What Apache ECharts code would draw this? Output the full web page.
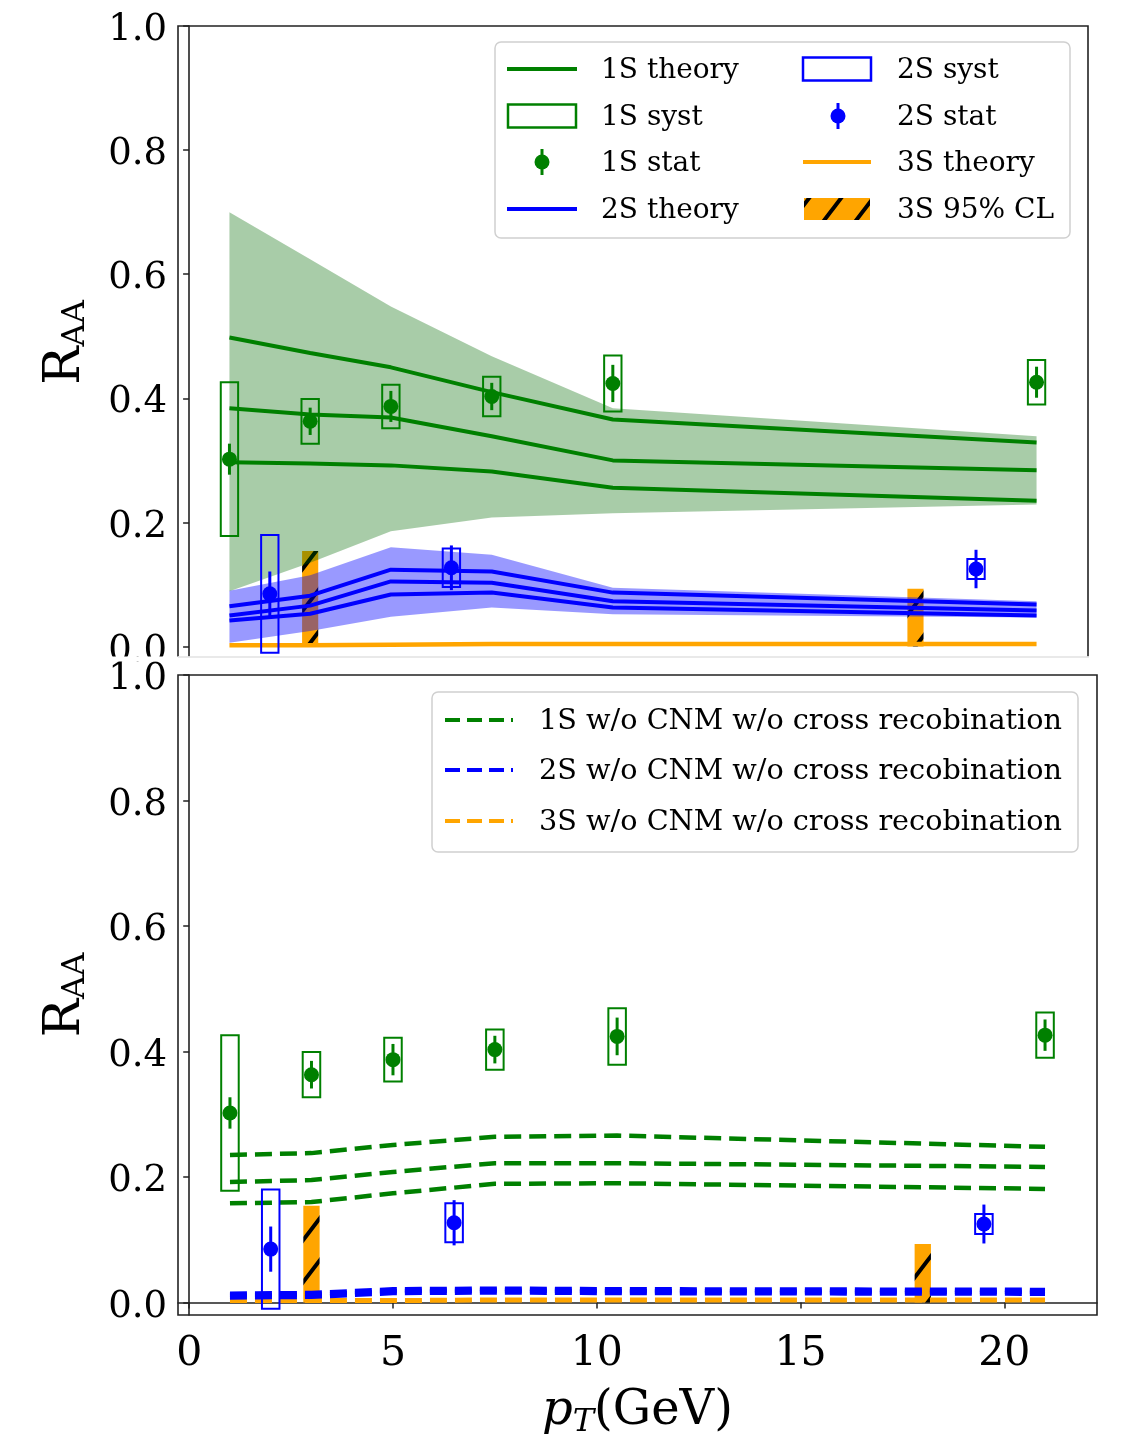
<!DOCTYPE html>
<html>
<head>
<meta charset="utf-8">
<script src="https://cdn.jsdelivr.net/npm/echarts@6/dist/echarts.min.js"></script>
<style>
  html, body { margin: 0; padding: 0; background: #ffffff; }
  #chart { width: 1127px; height: 1441px; }
</style>
</head>
<body>
<div id="chart"></div>
<script>
// ---------- data ----------
// pT knots (GeV) at which the model curves are evaluated
const ptKnots = [1, 3, 5, 7.5, 10.5, 21];

// 1S model (with CNM + cross recombination): three curves and uncertainty band
const th1S_hi  = [0.498, 0.473, 0.450, 0.410, 0.366, 0.329];
const th1S_mid = [0.384, 0.374, 0.369, 0.339, 0.300, 0.284];
const th1S_lo  = [0.297, 0.295, 0.292, 0.282, 0.256, 0.235];
const band1S_up = [0.700, 0.624, 0.548, 0.468, 0.384, 0.339];
const band1S_dn = [0.089, 0.135, 0.186, 0.208, 0.215, 0.229];

// 2S model: three curves and uncertainty band
const th2S_hi  = [0.065, 0.082, 0.124, 0.121, 0.087, 0.068];
const th2S_mid = [0.050, 0.066, 0.105, 0.103, 0.073, 0.058];
const th2S_lo  = [0.042, 0.053, 0.084, 0.087, 0.063, 0.050];
const band2S_up = [0.090, 0.115, 0.160, 0.148, 0.095, 0.073];
const band2S_dn = [0.006, 0.025, 0.048, 0.063, 0.052, 0.047];

// 3S model
const th3S = [0.002, 0.002, 0.003, 0.004, 0.004, 0.004];

// model without CNM and without cross recombination
const nc1S_hi  = [0.235, 0.238, 0.251, 0.264, 0.266, 0.248];
const nc1S_mid = [0.192, 0.195, 0.208, 0.222, 0.222, 0.216];
const nc1S_lo  = [0.158, 0.160, 0.174, 0.189, 0.190, 0.181];
const nc2S_hi  = [0.014, 0.015, 0.021, 0.022, 0.021, 0.020];
const nc2S_mid = [0.011, 0.012, 0.018, 0.019, 0.018, 0.017];
const nc2S_lo  = [0.008, 0.009, 0.015, 0.016, 0.015, 0.014];
const nc3S     = [0.003, 0.003, 0.003, 0.004, 0.004, 0.004];

// measurements
const pt1S   = [1, 3, 5, 7.5, 10.5, 21];
const raa1S  = [0.302, 0.363, 0.387, 0.403, 0.424, 0.426];
const stat1S = [0.025, 0.022, 0.025, 0.022, 0.030, 0.025];
const syst1S = [0.124, 0.036, 0.035, 0.032, 0.045, 0.036];

const pt2S   = [2, 6.5, 19.5];
const raa2S  = [0.085, 0.127, 0.125];
const stat2S = [0.036, 0.036, 0.031];
const syst2S = [0.095, 0.031, 0.016];

// 3S upper limits (95% CL)
const pt3S = [3, 18];
const cl3S = [0.154, 0.093];

// axis ticks
const xTicks = [0, 5, 10, 15, 20];
const yTicks = [0, 0.2, 0.4, 0.6, 0.8, 1.0];

// ---------- style ----------
const FONT = '"DejaVu Serif", "Liberation Serif", serif';
const GREEN = '#008000', BLUE = '#0000ff', ORANGE = '#ffa500';
const BOX_HALF = 0.215;   // half width of systematic boxes (GeV)
const BAR_HALF = 0.2;     // half width of 3S limit bars (GeV)
const DASH = [17, 8];

function makeHatch() {
  const w = 32, h = 42;
  const c = document.createElement('canvas');
  c.width = w; c.height = h;
  const g = c.getContext('2d');
  g.fillStyle = ORANGE;
  g.fillRect(0, 0, w, h);
  g.strokeStyle = '#000';
  g.lineWidth = 4;
  g.beginPath();
  for (let k = -1; k <= 1; k++) {
    g.moveTo(k * w - w, 2 * h);
    g.lineTo(k * w + 2 * w, -h);
  }
  g.stroke();
  return c;
}
const hatch = { image: makeHatch(), repeat: 'repeat' };

function curve(grid, ys, color, z, dashed, width) {
  return {
    type: 'line', xAxisIndex: grid, yAxisIndex: grid, z: z,
    data: ptKnots.map((x, i) => [x, ys[i]]),
    symbol: 'none', silent: true, animation: false,
    lineStyle: { color: color, width: width || 4, type: dashed ? DASH : 'solid', cap: 'butt' }
  };
}

function band(grid, up, dn, fill, z) {
  return {
    type: 'custom', xAxisIndex: grid, yAxisIndex: grid, z: z, silent: true, animation: false,
    data: ptKnots.map((x, i) => [x, dn[i], up[i]]),
    encode: { x: 0, y: [1, 2] },
    renderItem: function (params, api) {
      if (params.dataIndex !== 0) return null;
      const pts = [];
      for (let i = 0; i < ptKnots.length; i++) pts.push(api.coord([ptKnots[i], up[i]]));
      for (let i = ptKnots.length - 1; i >= 0; i--) pts.push(api.coord([ptKnots[i], dn[i]]));
      return { type: 'polygon', shape: { points: pts }, style: { fill: fill } };
    }
  };
}

function systBoxes(grid, xs, ys, ss, color, z) {
  return {
    type: 'custom', xAxisIndex: grid, yAxisIndex: grid, z: z, silent: true, animation: false,
    data: xs.map((x, i) => [x, ys[i], ss[i]]),
    encode: { x: 0, y: 1 },
    renderItem: function (params, api) {
      const x = api.value(0), y = api.value(1), s = api.value(2);
      const a = api.coord([x - BOX_HALF, y + s]);
      const b = api.coord([x + BOX_HALF, y - s]);
      return {
        type: 'rect',
        shape: { x: a[0], y: a[1], width: b[0] - a[0], height: b[1] - a[1] },
        style: { fill: 'none', stroke: color, lineWidth: 2 }
      };
    }
  };
}

function statPoints(grid, xs, ys, es, color, z) {
  return {
    type: 'custom', xAxisIndex: grid, yAxisIndex: grid, z: z, silent: true, animation: false,
    data: xs.map((x, i) => [x, ys[i], es[i]]),
    encode: { x: 0, y: 1 },
    renderItem: function (params, api) {
      const x = api.value(0), y = api.value(1), e = api.value(2);
      const c = api.coord([x, y]);
      const t = api.coord([x, y + e]);
      const b = api.coord([x, y - e]);
      return {
        type: 'group',
        children: [
          { type: 'line', shape: { x1: t[0], y1: t[1], x2: b[0], y2: b[1] },
            style: { stroke: color, lineWidth: 3 } },
          { type: 'circle', shape: { cx: c[0], cy: c[1], r: 7.5 }, style: { fill: color } }
        ]
      };
    }
  };
}

function limitBars(grid, z) {
  return {
    type: 'custom', xAxisIndex: grid, yAxisIndex: grid, z: z, silent: true, animation: false,
    data: pt3S.map((x, i) => [x, cl3S[i]]),
    encode: { x: 0, y: 1 },
    renderItem: function (params, api) {
      const x = api.value(0), y = api.value(1);
      const a = api.coord([x - BAR_HALF, y]);
      const b = api.coord([x + BAR_HALF, 0]);
      return {
        type: 'rect',
        shape: { x: a[0], y: a[1], width: b[0] - a[0], height: b[1] - a[1] },
        style: { fill: hatch }
      };
    }
  };
}

function yAxisDef(grid) {
  return {
    type: 'value', gridIndex: grid, min: -0.02, max: 1.0,
    axisLine: { show: true, lineStyle: { color: '#222', width: 1.6 } },
    axisTick: { show: true, length: 6, customValues: yTicks, lineStyle: { color: '#222', width: 1.5 } },
    axisLabel: {
      customValues: yTicks, formatter: v => '{v|' + v.toFixed(1) + '}',
      margin: 11,
      rich: { v: { fontFamily: FONT, fontSize: 37, color: '#000', padding: [9, 0, 0, 0] } }
    },
    splitLine: { show: false },
    name: '{r|R}{s|AA}', nameLocation: 'middle', nameRotate: 90, nameGap: 86,
    nameTextStyle: {
      rich: {
        r: { fontFamily: FONT, fontSize: 51, color: '#000' },
        s: { fontFamily: FONT, fontSize: 32, color: '#000', padding: [20, 0, 0, 0] }
      }
    }
  };
}

const option = {
  backgroundColor: '#ffffff',
  animation: false,
  grid: [
    { left: 178, top: 26, width: 910, height: 633, show: true, borderColor: '#222', borderWidth: 1.6, backgroundColor: 'transparent' },
    { left: 178, top: 675, width: 919, height: 640, show: true, borderColor: '#222', borderWidth: 1.6, backgroundColor: 'transparent' }
  ],
  xAxis: [
    { type: 'value', gridIndex: 0, min: -0.275, max: 22.275,
      axisLine: { show: false }, axisTick: { show: false }, axisLabel: { show: false }, splitLine: { show: false } },
    { type: 'value', gridIndex: 1, min: -0.275, max: 22.275,
      axisLine: { show: true, lineStyle: { color: '#222', width: 1.6 } },
      axisTick: { show: true, length: 6, customValues: xTicks, lineStyle: { color: '#222', width: 1.5 } },
      axisLabel: { customValues: xTicks, fontFamily: FONT, fontSize: 41, color: '#000', margin: 19 },
      splitLine: { show: false },
      name: '{p|p}{t|T}{g|(GeV)}', nameLocation: 'middle', nameGap: 70,
      nameTextStyle: {
        rich: {
          p: { fontFamily: FONT, fontStyle: 'italic', fontSize: 48, color: '#000' },
          t: { fontFamily: FONT, fontStyle: 'italic', fontSize: 32, color: '#000', padding: [22, 0, 0, 0] },
          g: { fontFamily: FONT, fontSize: 48, color: '#000' }
        }
      }
    }
  ],
  yAxis: [yAxisDef(0), yAxisDef(1)],
  series: [
    // upper panel: full model
    limitBars(0, 1),
    band(0, band1S_up, band1S_dn, 'rgba(0,105,0,0.34)', 2),
    band(0, band2S_up, band2S_dn, 'rgba(0,0,255,0.4)', 2),
    curve(0, th1S_hi, GREEN, 3), curve(0, th1S_mid, GREEN, 3), curve(0, th1S_lo, GREEN, 3),
    curve(0, th2S_hi, BLUE, 3), curve(0, th2S_mid, BLUE, 3), curve(0, th2S_lo, BLUE, 3),
    curve(0, th3S, ORANGE, 3, false, 4.5),
    systBoxes(0, pt1S, raa1S, syst1S, GREEN, 4),
    systBoxes(0, pt2S, raa2S, syst2S, BLUE, 4),
    statPoints(0, pt1S, raa1S, stat1S, GREEN, 5),
    statPoints(0, pt2S, raa2S, stat2S, BLUE, 5),
    // lower panel: without CNM, without cross recombination
    limitBars(1, 1),
    curve(1, nc1S_hi, GREEN, 3, true, 4.5), curve(1, nc1S_mid, GREEN, 3, true, 4.5), curve(1, nc1S_lo, GREEN, 3, true, 4.5),
    curve(1, nc3S, ORANGE, 3, true, 5),
    curve(1, nc2S_hi, BLUE, 3, true, 4.5), curve(1, nc2S_mid, BLUE, 3, true, 4.5), curve(1, nc2S_lo, BLUE, 3, true, 4.5),
    systBoxes(1, pt1S, raa1S, syst1S, GREEN, 4),
    systBoxes(1, pt2S, raa2S, syst2S, BLUE, 4),
    statPoints(1, pt1S, raa1S, stat1S, GREEN, 5),
    statPoints(1, pt2S, raa2S, stat2S, BLUE, 5)
  ]
};

// ---------- legends ----------
function legendText(x, y, text, size) {
  return { type: 'text', z: 120, style: { x: x, y: y + 2, text: text, fontFamily: FONT, fontSize: size, fill: '#000', verticalAlign: 'middle', align: 'left' } };
}
function legendLine(x1, x2, y, color, dashed) {
  return { type: 'line', z: 120, shape: { x1: x1, y1: y, x2: x2, y2: y }, style: { stroke: color, lineWidth: 4, lineDash: dashed ? [15, 7] : null } };
}
function legendBox(x, y, w, h, color) {
  return { type: 'rect', z: 120, shape: { x: x, y: y, width: w, height: h }, style: { fill: 'none', stroke: color, lineWidth: 2.5 } };
}
function legendStat(cx, cy, color) {
  return [
    { type: 'line', z: 120, shape: { x1: cx, y1: cy - 13, x2: cx, y2: cy + 13 }, style: { stroke: color, lineWidth: 3 } },
    { type: 'circle', z: 121, shape: { cx: cx, cy: cy, r: 7.5 }, style: { fill: color } }
  ];
}

const L1 = { x: 495, y: 42, w: 575, h: 196 };
const rows1 = [69, 116, 162, 209];
const L2 = { x: 432, y: 692, w: 646, h: 160 };
const rows2 = [720, 770, 821];

const graphics = [
  // the upper panel is cut off just below its zero line
  { type: 'rect', z: 110, shape: { x: 0, y: 656.5, width: 1127, height: 5 }, style: { fill: '#ffffff' } },
  { type: 'line', z: 111, shape: { x1: 178, y1: 657, x2: 1089, y2: 657 }, style: { stroke: '#e2e2e2', lineWidth: 1.5 } },

  { type: 'rect', z: 115, shape: { x: L1.x, y: L1.y, width: L1.w, height: L1.h, r: 6 },
    style: { fill: 'rgba(255,255,255,0.85)', stroke: '#d0d0d0', lineWidth: 1.5 } },
  legendLine(507, 577, rows1[0], GREEN),
  legendText(601, rows1[0], '1S theory', 28),
  legendBox(508, rows1[1] - 11.5, 68, 23, GREEN),
  legendText(601, rows1[1], '1S syst', 28),
  ...legendStat(542, rows1[2], GREEN),
  legendText(601, rows1[2], '1S stat', 28),
  legendLine(507, 577, rows1[3], BLUE),
  legendText(601, rows1[3], '2S theory', 28),
  legendBox(803, rows1[0] - 11.5, 68, 23, BLUE),
  legendText(897, rows1[0], '2S syst', 28),
  ...legendStat(838, rows1[1], BLUE),
  legendText(897, rows1[1], '2S stat', 28),
  legendLine(803, 871, rows1[2], ORANGE),
  legendText(897, rows1[2], '3S theory', 28),
  { type: 'rect', z: 120, shape: { x: 804, y: rows1[3] - 11, width: 66, height: 22 }, style: { fill: hatch } },
  legendText(897, rows1[3], '3S 95% CL', 28),

  { type: 'rect', z: 115, shape: { x: L2.x, y: L2.y, width: L2.w, height: L2.h, r: 6 },
    style: { fill: 'rgba(255,255,255,0.85)', stroke: '#d0d0d0', lineWidth: 1.5 } },
  legendLine(445, 513, rows2[0], GREEN, true),
  legendText(539, rows2[0], '1S w/o CNM w/o cross recobination', 28.7),
  legendLine(445, 513, rows2[1], BLUE, true),
  legendText(539, rows2[1], '2S w/o CNM w/o cross recobination', 28.7),
  legendLine(445, 513, rows2[2], ORANGE, true),
  legendText(539, rows2[2], '3S w/o CNM w/o cross recobination', 28.7)
];
option.graphic = { elements: graphics };

const chart = echarts.init(document.getElementById('chart'), null, { renderer: 'canvas' });
chart.setOption(option);
</script>
</body>
</html>
